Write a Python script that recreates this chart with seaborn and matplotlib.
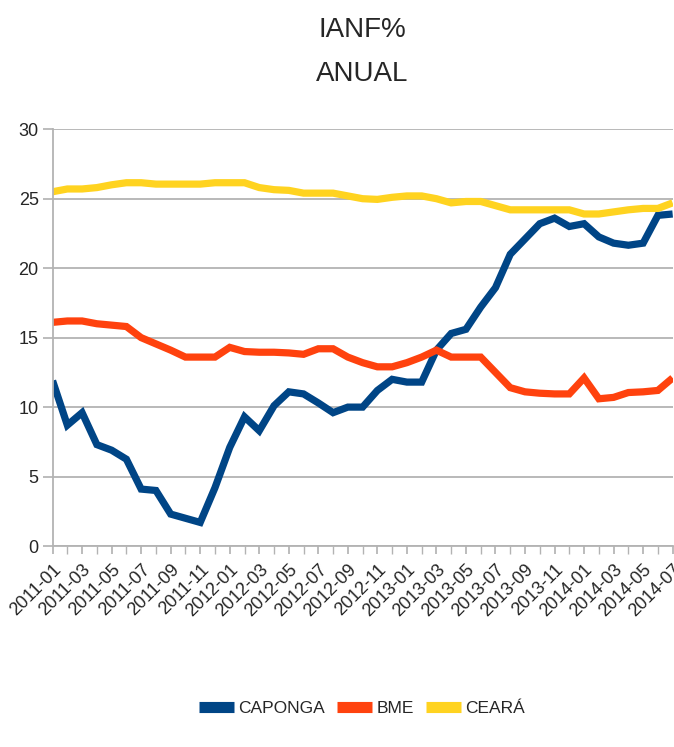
import numpy as np
import pandas as pd
import matplotlib
matplotlib.use("Agg")
import matplotlib.pyplot as plt
import seaborn as sns

months = [f"{y}-{m:02d}" for y in range(2011, 2015) for m in range(1, 13)][:43]

caponga = [11.9, 8.7, 9.6, 7.3, 6.9, 6.25, 4.1, 4.0, 2.3, 2.0, 1.7, 4.2, 7.1, 9.3, 8.3,
           10.1, 11.1, 10.95, 10.3, 9.6, 10.0, 10.0, 11.2, 12.0, 11.8, 11.8, 14.1, 15.3,
           15.6, 17.2, 18.6, 21.0, 22.1, 23.2, 23.6, 23.0, 23.2, 22.25, 21.8, 21.65,
           21.8, 23.8, 23.9]
bme = [16.1, 16.2, 16.2, 16.0, 15.9, 15.8, 15.0, 14.55, 14.1, 13.6, 13.6, 13.6, 14.3,
       14.0, 13.95, 13.95, 13.9, 13.8, 14.2, 14.2, 13.6, 13.2, 12.9, 12.9, 13.2, 13.6,
       14.1, 13.6, 13.6, 13.6, 12.5, 11.4, 11.1, 11.0, 10.95, 10.95, 12.1, 10.6, 10.7,
       11.05, 11.1, 11.2, 12.1]
ceara = [25.5, 25.7, 25.7, 25.8, 26.0, 26.15, 26.15, 26.05, 26.05, 26.05, 26.05, 26.15,
         26.15, 26.15, 25.8, 25.65, 25.6, 25.4, 25.4, 25.4, 25.2, 25.0, 24.95, 25.1,
         25.2, 25.2, 25.0, 24.7, 24.8, 24.8, 24.5, 24.2, 24.2, 24.2, 24.2, 24.2, 23.9,
         23.9, 24.05, 24.2, 24.3, 24.3, 24.7]
series_names = ["CAPONGA", "BME", "CEARÁ"]
colors = ["#004586", "#ff420e", "#ffd320"]

df = pd.DataFrame({
    "idx": list(range(len(months))) * 3,
    "valor": caponga + bme + ceara,
    "serie": [s for s in series_names for _ in months],
})

sns.set_theme(style="white")
plt.rcParams["font.family"] = ["Liberation Sans", "DejaVu Sans"]

fig = plt.figure(figsize=(6.74, 7.47), dpi=100)
ax = fig.add_axes([0.078, 0.269, 0.92, 0.558])

sns.lineplot(data=df, x="idx", y="valor", hue="serie", palette=colors,
             hue_order=series_names, linewidth=5.2, ax=ax, legend=True,
             solid_joinstyle="miter", solid_capstyle="butt")

ax.set_xlim(0, len(months) - 1)
ax.set_ylim(0, 30)
ax.set_yticks(range(0, 31, 5))
ax.set_xticks(range(len(months)), minor=True)
ax.set_xticks(range(0, len(months), 2))
ax.set_xticklabels(months[::2], rotation=45, ha="right", rotation_mode="anchor",
                   fontsize=13)
ax.tick_params(axis="y", labelsize=13, length=7, color="#b3b3b3", direction="out",
               left=True, pad=3)
ax.tick_params(axis="x", which="both", length=6, color="#b3b3b3", direction="out",
               bottom=True, pad=5)
ax.grid(axis="y", color="#b3b3b3", linewidth=1.3)
ax.set_axisbelow(True)
for s in ["top", "right"]:
    ax.spines[s].set_visible(False)
ax.spines["left"].set_color("#b3b3b3")
ax.spines["bottom"].set_color("#b3b3b3")
ax.spines["left"].set_linewidth(1.3)
ax.spines["bottom"].set_linewidth(1.3)
ax.set_xlabel("")
ax.set_ylabel("")

fig.text(0.537, 0.96, "IANF%", ha="center", va="center", fontsize=20)
fig.text(0.537, 0.901, "ANUAL", ha="center", va="center", fontsize=20)

leg = ax.legend(loc="center", ncol=3, frameon=False, fontsize=12.5,
                handlelength=2.0, columnspacing=0.7, handletextpad=0.25)
for line in leg.get_lines():
    line.set_linewidth(8)
leg.set_bbox_to_anchor((0.537, 0.052), transform=fig.transFigure)

fig.savefig("out.png", dpi=100)
